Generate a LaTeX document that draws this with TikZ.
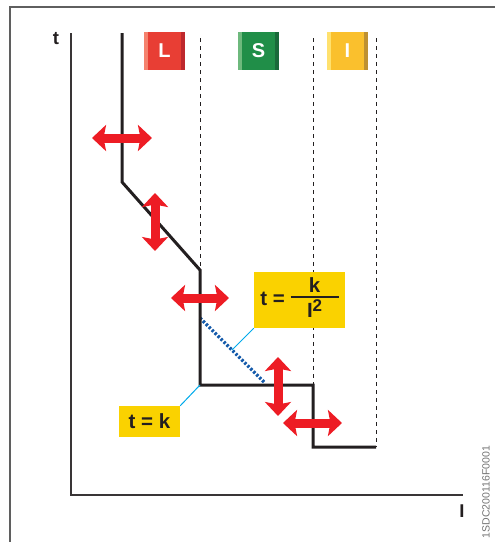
\documentclass[tikz,border=0pt]{standalone}
\usepackage{fontspec}
\setmainfont{Liberation Sans}
\usetikzlibrary{arrows.meta}
\definecolor{arrowred}{RGB}{237,28,36}
\definecolor{eqyellow}{RGB}{250,210,0}
\definecolor{leadcyan}{RGB}{0,170,235}
\definecolor{dotblue}{RGB}{20,90,170}
\definecolor{framegray}{RGB}{95,95,95}
\definecolor{curveblack}{RGB}{35,31,32}
\definecolor{Llight}{RGB}{245,130,110}
\definecolor{Lmid}{RGB}{232,62,52}
\definecolor{Ldark}{RGB}{190,40,45}
\definecolor{Slight}{RGB}{110,185,125}
\definecolor{Smid}{RGB}{32,142,72}
\definecolor{Sdark}{RGB}{25,105,58}
\definecolor{Ilight}{RGB}{255,225,110}
\definecolor{Imid}{RGB}{250,192,45}
\definecolor{Idark}{RGB}{190,145,50}
\begin{document}
\begin{tikzpicture}[x=1pt,y=-1pt,
  dblarrow/.style={arrowred, line width=9pt,
    {Stealth[width=26pt,length=14pt,inset=2.5pt]}-{Stealth[width=26pt,length=14pt,inset=2.5pt]}},
  sqbox/.style={minimum width=41pt, minimum height=38pt, inner sep=0pt,
    text=white, font=\fontsize{20}{22}\selectfont\bfseries},
  eqbox/.style={fill=eqyellow, inner sep=0pt, text=curveblack,
    font=\fontsize{20.5}{23}\selectfont\bfseries},
  axlabel/.style={inner sep=0pt, text=curveblack, font=\fontsize{18.5}{20}\selectfont\bfseries},
  limline/.style={curveblack, line width=1pt, dash pattern=on 4pt off 4pt},
  leader/.style={leadcyan, line width=1pt},
  curve/.style={curveblack, line width=3pt, line join=miter}]
\useasboundingbox (0,0) rectangle (495,542);
% frame
\draw[framegray, line width=1.5pt] (10,542) -- (10,7) -- (495,7);
% axes
\coordinate (ytop) at (71,33);
\coordinate (orig) at (71,495);
\coordinate (xend) at (463,495);
\draw[curveblack!90, line width=1.5pt] (ytop) -- (orig) -- (xend);
\node[axlabel] (tlab) at (56,39) {t};
\node[axlabel] (Ilab) at (462,511) {I};
% dashed limits
\coordinate (d1t) at (200,38); \coordinate (d1b) at (200,270);
\coordinate (d2t) at (313,38); \coordinate (d2b) at (313,385);
\coordinate (d3t) at (376,38); \coordinate (d3b) at (376,447);
\draw[limline] (d1t) -- (d1b);
\draw[limline] (d2t) -- (d2b);
\draw[limline] (d3t) -- (d3b);
% boxes L S I
\node[sqbox, fill=Lmid] (boxL) at (164.5,51) {};
\node[sqbox, fill=Smid] (boxS) at (258.5,51) {};
\node[sqbox, fill=Imid] (boxI) at (347.5,51) {};
\foreach \b/\c in {L,S,I}{
  \fill[\c light] (box\b.north west) rectangle ([xshift=4pt]box\b.south west);
  \fill[\c dark] ([xshift=-4pt]box\b.north east) rectangle (box\b.south east);
}
\node[sqbox] (txtL) at (boxL) {L};
\node[sqbox] (txtS) at (boxS) {S};
\node[sqbox] (txtI) at (boxI) {I};
% trip curve
\coordinate (c0) at (122,33);
\coordinate (c1) at (122,182);
\coordinate (c2) at (200,270);
\coordinate (c3) at (200,385);
\coordinate (c4) at (313,385);
\coordinate (c5) at (313,447);
\coordinate (c6) at (376,447);
% dotted I2t
\coordinate (b0) at (200,318);
\coordinate (b1) at (265,383);
\coordinate (bmid) at (232,350);
\draw[dotblue, line width=3.2pt, dash pattern=on 2.4pt off 1.8pt] (b0) -- (b1);
\draw[curve] (c0) -- (c1) -- (c2) -- (c3) -- (c4) -- (c5) -- (c6);
% equation boxes
\node[eqbox, minimum width=91pt, minimum height=56pt] (eqkI) at (299.5,300)
  {t = {\arrayrulewidth=2.2pt\begin{tabular}{@{}c@{}}\makebox[48pt]{k}\\[-3pt]\hline\rule{0pt}{19pt}I\raisebox{6pt}{\fontsize{17}{18}\selectfont 2}\end{tabular}}};
\node[eqbox, minimum width=61pt, minimum height=31pt] (eqk) at (149.5,421.5) {t = k};
\draw[leader] (eqkI.south west) -- (bmid);
\draw[leader] (eqk.north east) -- (c3);
% red arrows
\coordinate (a1l) at (92,138); \coordinate (a1r) at (152,138);
\coordinate (a2t) at (155,193); \coordinate (a2b) at (155,251);
\coordinate (a3l) at (171,298); \coordinate (a3r) at (229,298);
\coordinate (a4t) at (278,357); \coordinate (a4b) at (278,416);
\coordinate (a5l) at (283,423); \coordinate (a5r) at (342,423);
\draw[dblarrow] (a1l) -- (a1r);
\draw[dblarrow] (a2t) -- (a2b);
\draw[dblarrow] (a3l) -- (a3r);
\draw[dblarrow] (a4t) -- (a4b);
\draw[dblarrow] (a5l) -- (a5r);
% code
\node[rotate=90, text=black!55, inner sep=0pt, font=\fontsize{10.5}{12}\selectfont] (code) at (486,492) {1SDC200116F0001};
\end{tikzpicture}
\end{document}
